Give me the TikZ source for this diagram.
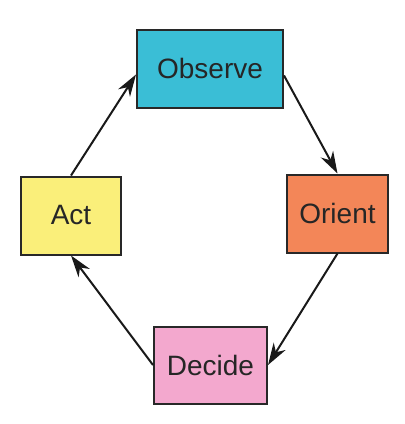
\documentclass[tikz,border=0pt]{standalone}
\usepackage{fontspec}
\setmainfont{Liberation Sans}
\usetikzlibrary{shapes,arrows.meta,positioning}
\definecolor{obscol}{RGB}{58,190,214}
\definecolor{oricol}{RGB}{243,134,88}
\definecolor{deccol}{RGB}{243,168,206}
\definecolor{actcol}{RGB}{250,239,122}
\definecolor{edgecol}{RGB}{40,40,40}
\tikzstyle{phase}=[rectangle,draw=edgecol,line width=2pt,align=center,minimum height=78pt,text=black!85,font=\fontsize{28}{30}\selectfont]
\tikzstyle{arr}=[-{Stealth[length=22pt,width=14pt,inset=7pt]},line width=2pt,draw=black!90]

\begin{document}
\begin{tikzpicture}[x=1pt,y=1pt]
\useasboundingbox (0,0) rectangle (405,-424);
\node (obs) [phase, fill=obscol, minimum width=146pt] at (210,-68.5) {Observe};
\node (ori) [phase, fill=oricol, minimum width=101pt, below right=65pt and 2pt of obs.south east, anchor=north west] {Orient};
\node (act) [phase, fill=actcol, minimum width=100pt, below left=67pt and 14pt of obs.south west, anchor=north east] {Act};
\node (dec) [phase, fill=deccol, minimum width=113pt, minimum height=77pt, below right=70pt and 31pt of act.south east, anchor=north west] {Decide};
\draw [arr] ([yshift=-7pt]obs.east) -- (ori.north);
\draw [arr] (ori.south) -- (dec.east);
\draw [arr] (dec.west) -- (act.south);
\draw [arr] (act.north) -- ([yshift=-6pt]obs.west);
\end{tikzpicture}
\end{document}
